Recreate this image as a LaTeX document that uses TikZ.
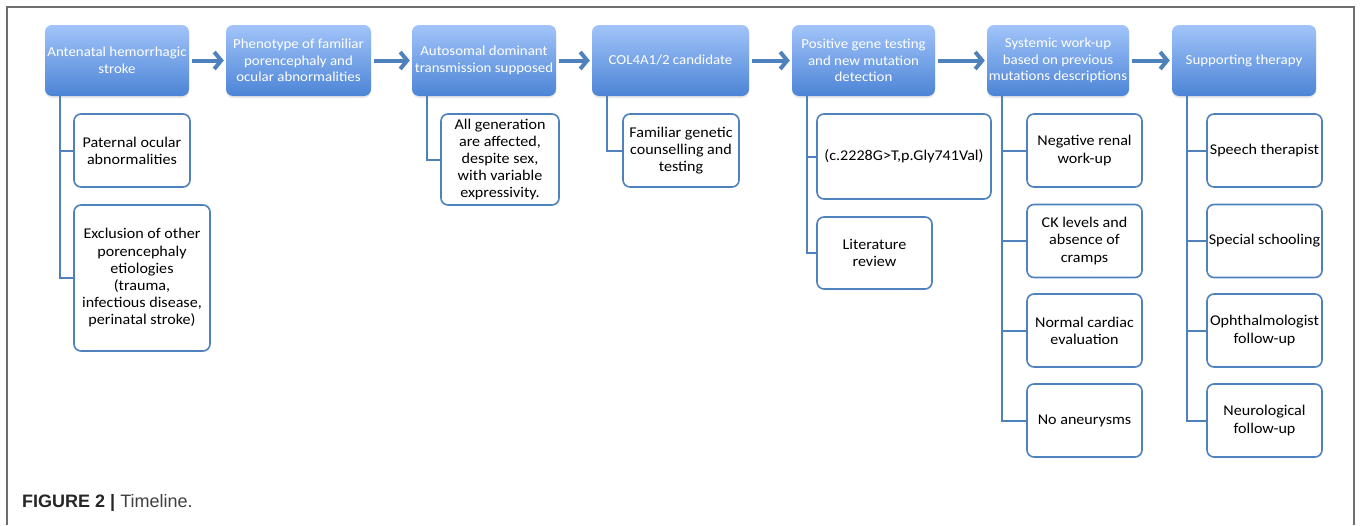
\documentclass[tikz,border=0pt]{standalone}
\usepackage{fontspec}
\setmainfont{Carlito}[FakeStretch=1.08]
\newfontfamily\capfont{Liberation Sans}
\usetikzlibrary{arrows.meta,shadows}
\definecolor{topc}{HTML}{A2C4FA}
\definecolor{botc}{HTML}{4C84D6}
\definecolor{linec}{HTML}{4F81BD}
\definecolor{framec}{HTML}{6E6E6E}
\tikzset{
  topbox/.style={rounded corners=7pt, top color=topc, bottom color=botc, draw=none,
    text=white, align=center, inner sep=0pt, minimum height=71pt,
    font=\fontsize{13.8}{16.5}\selectfont,
    drop shadow={shadow xshift=0pt, shadow yshift=-2pt, opacity=0.18}},
  childbox/.style={rounded corners=7pt, draw=linec, line width=1.6pt, fill=white,
    text=black, align=center, inner sep=0pt, minimum height=73pt,
    font=\fontsize{14.9}{17.2}\selectfont},
  flowarrow/.style={draw=linec, line width=4pt,
    -{Straight Barb[length=7pt,width=17pt]}, shorten <=3pt, shorten >=2pt},
  conn/.style={draw=linec, line width=2pt},
  captext/.style={font=\capfont\fontsize{18}{21}\selectfont, text=black!75, inner sep=0pt},
}
\begin{document}
\begin{tikzpicture}[x=1pt,y=-1pt]
\useasboundingbox (0,0) rectangle (1360,525);
\fill[white] (0,0) rectangle (1360,525);
\draw[framec, line width=2pt] (7,525) -- (7,7) -- (1354,7) -- (1354,525);

% top row
\node[topbox, minimum width=144pt] (B1) at (117,60.5) {Antenatal hemorrhagic\\stroke};
\node[topbox, minimum width=145pt] (B2) at (298.5,60.5) {Phenotype of familiar\\porencephaly and\\ocular abnormalities};
\node[topbox, minimum width=144pt] (B3) at (484,60.5) {Autosomal dominant\\transmission supposed};
\node[topbox, minimum width=157pt] (B4) at (670.5,60.5) {COL4A1/2 candidate};
\node[topbox, minimum width=143pt] (B5) at (863.5,60.5) {Positive gene testing\\and new mutation\\detection};
\node[topbox, minimum width=142pt] (B6) at (1058,60.5) {Systemic work-up\\based on previous\\mutations descriptions};
\node[topbox, minimum width=144pt] (B7) at (1244,60.5) {Supporting therapy};

\foreach \a/\b in {B1/B2,B2/B3,B3/B4,B4/B5,B5/B6,B6/B7}
  \draw[flowarrow] (\a.east) -- (\b.west);

% children
\node[childbox, minimum width=116pt] (C1a) at (132,150.5) {Paternal ocular\\abnormalities};
\node[childbox, minimum width=136pt, minimum height=146pt] (C1b) at (142,278) {Exclusion of other\\porencephaly\\etiologies\\(trauma,\\infectious disease,\\perinatal stroke)};
\node[childbox, minimum width=118pt, minimum height=91pt] (C3) at (500,159.5) {All generation\\are affected,\\despite sex,\\with variable\\expressivity.};
\node[childbox, minimum width=116pt] (C4) at (681,150.5) {Familiar genetic\\counselling and\\testing};
\node[childbox, minimum width=174pt, minimum height=85pt] (C5a) at (904,156.5) {(c.2228G>T,p.Gly741Val)};
\node[childbox, minimum width=115pt, minimum height=72pt] (C5b) at (874.5,253) {Literature\\review};
\node[childbox, minimum width=115pt] (C6a) at (1084.5,150.5) {Negative renal\\work-up};
\node[childbox, minimum width=115pt] (C6b) at (1084.5,241) {CK levels and\\absence of\\cramps};
\node[childbox, minimum width=115pt] (C6c) at (1084.5,330.5) {Normal cardiac\\evaluation};
\node[childbox, minimum width=115pt] (C6d) at (1084.5,420.5) {No aneurysms};
\node[childbox, minimum width=115pt] (C7a) at (1264.5,150.5) {Speech therapist};
\node[childbox, minimum width=115pt] (C7b) at (1264.5,241) {Special schooling};
\node[childbox, minimum width=115pt] (C7c) at (1264.5,330.5) {Ophthalmologist\\follow-up};
\node[childbox, minimum width=115pt] (C7d) at (1264.5,420.5) {Neurological\\follow-up};

% connectors
\foreach \p/\c in {B1/C1a,B1/C1b,B3/C3,B4/C4,B5/C5a,B5/C5b,B6/C6a,B6/C6b,B6/C6c,B6/C6d,B7/C7a,B7/C7b,B7/C7c,B7/C7d}
  \draw[conn] ([xshift=15pt]\p.south west) |- (\c.west);

% caption
\node[captext, anchor=base west] (cap) at (22,507) {\textcolor{black!85}{\bfseries FIGURE 2 |} Timeline.};
\end{tikzpicture}
\end{document}
